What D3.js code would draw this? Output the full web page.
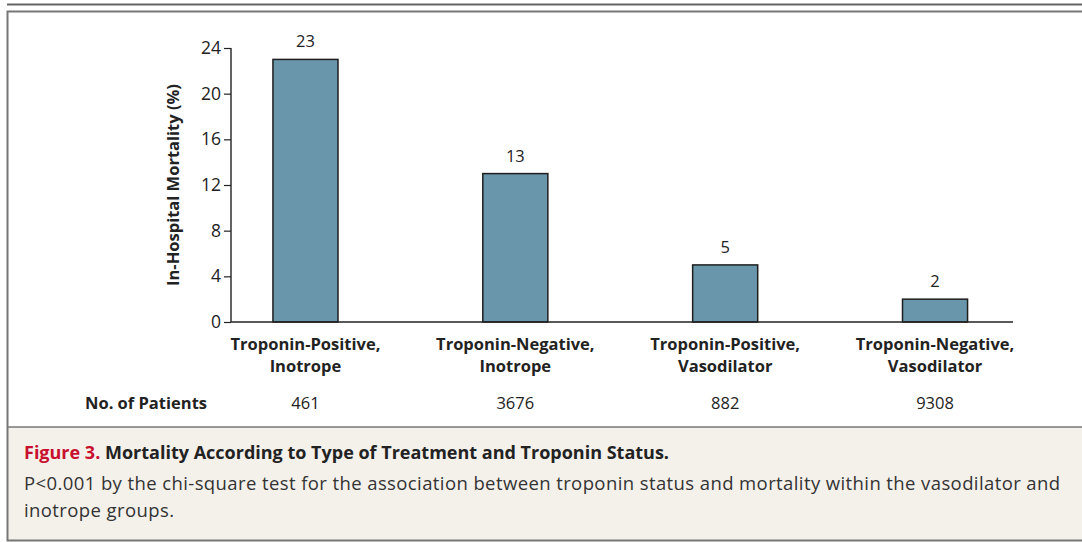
<!DOCTYPE html>
<html><head><meta charset="utf-8">
<script src="https://cdn.jsdelivr.net/npm/d3@7"></script>
<style>
html,body{margin:0;padding:0;background:#fff;}
svg{display:block;}
text{font-family:"Open Sans","Noto Sans",sans-serif;fill:#222;}
</style></head><body>
<svg id="chart" width="1082" height="542"></svg>
<script>
const categories = [["Troponin-Positive,","Inotrope"],["Troponin-Negative,","Inotrope"],["Troponin-Positive,","Vasodilator"],["Troponin-Negative,","Vasodilator"]];
const mortality = [23, 13, 5, 2];
const patients = ["461", "3676", "882", "9308"];
const yTicks = [0, 4, 8, 12, 16, 20, 24];
const yTitle = "In-Hospital Mortality (%)";
const patientsLabel = "No. of Patients";
const figLabel = "Figure 3.";
const figTitle = " Mortality According to Type of Treatment and Troponin Status.";
const captionLines = ["P<0.001 by the chi-square test for the association between troponin status and mortality within the vasodilator and","inotrope groups."];

const svg = d3.select("#chart");
const W = 1082, H = 542;

// frame
svg.append("line").attr("x1",7).attr("x2",W).attr("y1",4.5).attr("y2",4.5).attr("stroke","#666").attr("stroke-width",2);
svg.append("rect").attr("x",7).attr("y",427).attr("width",W).attr("height",114).attr("fill","#f4f1eb");
svg.append("rect").attr("x",7.5).attr("y",11.5).attr("width",W+10).attr("height",529).attr("fill","none").attr("stroke","#777").attr("stroke-width",2);
svg.append("line").attr("x1",7).attr("x2",W).attr("y1",427).attr("y2",427).attr("stroke","#777").attr("stroke-width",1.5);

const idx = categories.map((d,i)=>i);
const x = d3.scaleBand().domain(idx).range([229.5, 1011]).paddingInner(0.69).paddingOuter(0.207);
const y = d3.scaleLinear().domain([0,24]).range([322,48]);

const g = svg.append("g");
// y axis
const yAxis = d3.axisLeft(y).tickValues(yTicks).tickSize(7).tickPadding(3).tickFormat(d3.format("d"));
const ya = g.append("g").attr("transform","translate(231,0)").call(yAxis);
ya.select(".domain").attr("stroke","#222").attr("stroke-width",1.4).attr("d","M0,48V322");
ya.selectAll(".tick line").attr("stroke","#222").attr("stroke-width",1.2);
ya.selectAll(".tick text").attr("font-family","'Open Sans',sans-serif").attr("font-size",17.5).attr("fill","#222");

// bars
g.selectAll("rect.bar").data(mortality).join("rect").attr("class","bar")
  .attr("x",(d,i)=>x(i)).attr("width",x.bandwidth())
  .attr("y",d=>y(d)).attr("height",d=>y(0)-y(d))
  .attr("fill","#6a96ab").attr("stroke","#1e1e1e").attr("stroke-width",1.5);

// x axis line
g.append("line").attr("x1",231).attr("x2",1013).attr("y1",y(0)).attr("y2",y(0)).attr("stroke","#222").attr("stroke-width",1.4);

// value labels
g.selectAll("text.val").data(mortality).join("text").attr("class","val")
  .attr("x",(d,i)=>x(i)+x.bandwidth()/2).attr("y",d=>y(d)-12)
  .attr("text-anchor","middle").attr("font-size",16.5).text(d=>d);

// category labels
const cat = g.selectAll("text.cat").data(categories).join("text").attr("class","cat")
  .attr("text-anchor","middle").attr("font-size",16.5).attr("font-weight","bold");
cat.each(function(d,i){
  const t = d3.select(this);
  d.forEach((line,j)=>{
    t.append("tspan").attr("x",x(i)+x.bandwidth()/2).attr("y",350+j*22).text(line);
  });
});

// y title
g.append("text").attr("transform","translate(179,"+((y(0)+y(24))/2)+") rotate(-90)")
  .attr("text-anchor","middle").attr("font-size",16.5).attr("font-weight","bold").text(yTitle);

// patients
g.append("text").attr("x",207).attr("y",408.5).attr("text-anchor","end").attr("font-size",16.5).attr("font-weight","bold").text(patientsLabel);
g.selectAll("text.pat").data(patients).join("text").attr("class","pat")
  .attr("x",(d,i)=>x(i)+x.bandwidth()/2).attr("y",408.5).attr("text-anchor","middle").attr("font-size",16.5).text(d=>d);

// caption
const t1 = svg.append("text").attr("x",24).attr("y",459).attr("font-size",18).attr("font-weight","bold");
t1.append("tspan").attr("fill","#c8102e").style("fill","#c8102e").text(figLabel);
t1.append("tspan").text(figTitle);
captionLines.forEach((l,i)=>{
  svg.append("text").attr("x",24).attr("y",490+i*27).attr("font-size",18.5).attr("letter-spacing",0.4)
    .attr("fill","#333").style("fill","#333").text(l);
});
</script>
</body></html>
